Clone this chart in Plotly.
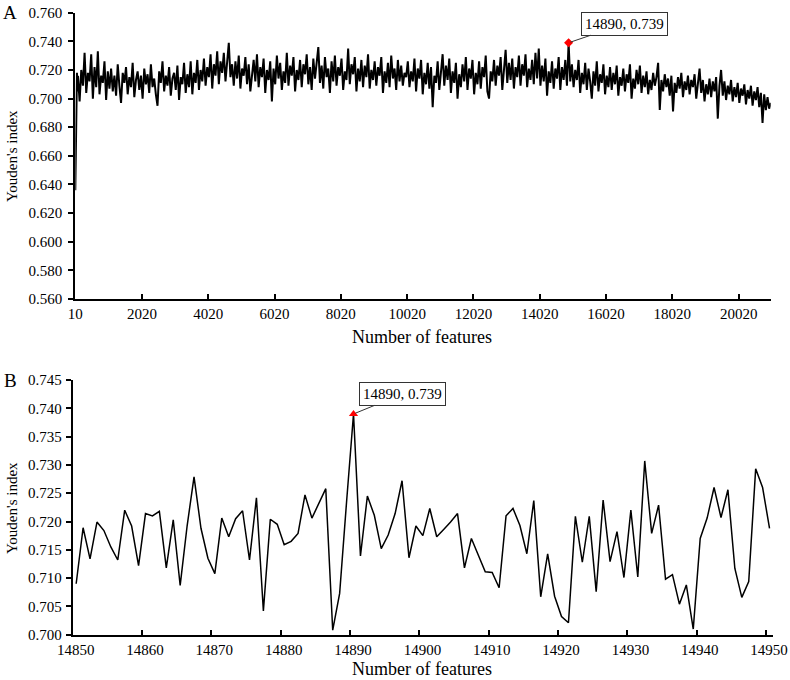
import plotly.graph_objects as go

# ---------------- Panel A data (Youden's index vs number of features) ----------------
STEP_A = 50
xa_rise = [10, 20, 30, 40, 50, 60, 70]
ya_rise = [0.636, 0.662, 0.681, 0.699, 0.712, 0.718, 0.705]

start_s1 = 90
ya_s1 = [0.716, 0.698, 0.720, 0.709, 0.732, 0.704, 0.718, 0.712, 0.731, 0.700,
         0.722, 0.708, 0.733, 0.703, 0.716, 0.711, 0.726, 0.699, 0.719, 0.707]

start_s2 = 1090
ya_s2 = [0.721, 0.705, 0.716, 0.702, 0.724, 0.709, 0.697, 0.718, 0.711, 0.722,
         0.703, 0.715, 0.708, 0.725, 0.701, 0.713, 0.719, 0.706, 0.716, 0.700,
         0.721, 0.710, 0.717, 0.704, 0.724, 0.708, 0.714, 0.703, 0.695, 0.719,
         0.711, 0.726, 0.705, 0.716, 0.709, 0.722, 0.702, 0.714, 0.718, 0.706,
         0.723, 0.699, 0.715, 0.710, 0.725, 0.704, 0.717, 0.708, 0.726, 0.703,
         0.718, 0.711, 0.727, 0.706, 0.720]

start_s3 = 3840
ya_s3 = [0.712, 0.728, 0.709, 0.722, 0.715, 0.731, 0.707, 0.724, 0.716, 0.733,
         0.710, 0.726, 0.718, 0.732, 0.712, 0.727, 0.739, 0.715, 0.724]

start_s4 = 4790
ya_s4 = [0.709, 0.726, 0.714, 0.730, 0.707, 0.721, 0.716, 0.729, 0.710, 0.724,
         0.705, 0.719, 0.727, 0.712, 0.731, 0.708, 0.722, 0.715, 0.728, 0.704,
         0.720, 0.713, 0.726, 0.698, 0.721, 0.710, 0.730, 0.714, 0.725, 0.706,
         0.719, 0.711, 0.732, 0.709, 0.723, 0.716, 0.729, 0.705, 0.720, 0.713,
         0.727, 0.708, 0.724, 0.717, 0.731, 0.710, 0.722, 0.706, 0.728, 0.714,
         0.725, 0.736, 0.711, 0.723, 0.707, 0.729, 0.715, 0.721, 0.704, 0.726,
         0.712, 0.730, 0.709, 0.722, 0.716, 0.728, 0.706, 0.719, 0.713, 0.735,
         0.710, 0.724, 0.717, 0.729, 0.705, 0.721, 0.712, 0.727, 0.708, 0.723,
         0.715, 0.731, 0.707, 0.720, 0.713, 0.726, 0.709, 0.722, 0.716, 0.729,
         0.704, 0.719, 0.711, 0.725, 0.708, 0.730, 0.714, 0.721, 0.706, 0.727,
         0.712, 0.723, 0.709, 0.718, 0.715]

start_s5 = 10040
ya_s5 = [0.726, 0.708, 0.719, 0.712, 0.728, 0.705, 0.721, 0.714, 0.727, 0.703,
         0.718, 0.710, 0.725, 0.707, 0.722, 0.694, 0.716, 0.711, 0.726, 0.706,
         0.720, 0.731, 0.709, 0.723, 0.713, 0.728, 0.704, 0.719, 0.711, 0.725,
         0.700, 0.717, 0.708, 0.724, 0.712, 0.729, 0.706, 0.721, 0.714, 0.727,
         0.703, 0.718, 0.710, 0.726, 0.707, 0.722, 0.715, 0.730, 0.705, 0.700,
         0.719, 0.712, 0.727, 0.709, 0.723, 0.716, 0.729, 0.706, 0.720, 0.734,
         0.711, 0.725, 0.713, 0.728, 0.707, 0.722, 0.715, 0.730, 0.709, 0.724,
         0.716, 0.731, 0.708, 0.721, 0.713, 0.727, 0.710, 0.732, 0.714, 0.735,
         0.709, 0.723, 0.712, 0.728, 0.702, 0.719, 0.711, 0.726, 0.707, 0.721,
         0.714, 0.729, 0.706, 0.722, 0.713, 0.727, 0.709]

start_s6 = 14890
ya_s6 = [0.739, 0.712, 0.724, 0.708, 0.720, 0.713, 0.727, 0.704, 0.718, 0.710,
         0.725, 0.706, 0.721, 0.712, 0.700, 0.719, 0.709, 0.726, 0.705, 0.717,
         0.711, 0.724, 0.703, 0.716, 0.708, 0.722, 0.706, 0.718, 0.710, 0.723,
         0.702, 0.715, 0.709, 0.721, 0.705, 0.717, 0.711, 0.724, 0.700, 0.714,
         0.707, 0.720, 0.710, 0.723, 0.704, 0.716, 0.708, 0.719, 0.703, 0.713]

start_s7 = 17390
ya_s7 = [0.706, 0.718, 0.709, 0.715, 0.725, 0.692, 0.713, 0.705, 0.717, 0.708,
         0.714, 0.702, 0.716, 0.691, 0.711, 0.704, 0.715, 0.707, 0.718, 0.701,
         0.712, 0.706, 0.716, 0.703, 0.713, 0.708, 0.717, 0.700, 0.711, 0.721,
         0.704, 0.713, 0.698, 0.710, 0.703, 0.714, 0.701, 0.712, 0.705, 0.715,
         0.686, 0.709, 0.720]

start_s8 = 19540
ya_s8 = [0.702, 0.712, 0.699, 0.709, 0.703, 0.713, 0.698, 0.708, 0.701, 0.711,
         0.697, 0.707, 0.702, 0.710, 0.696, 0.706, 0.700, 0.709, 0.695, 0.705,
         0.699, 0.708, 0.694, 0.704, 0.683, 0.703, 0.692, 0.701, 0.693, 0.697]

a_tick_vals = [10, 2020, 4020, 6020, 8020, 10020, 12020, 14020, 16020, 18020, 20020]
a_y_ticks = [0.560, 0.580, 0.600, 0.620, 0.640, 0.660, 0.680, 0.700, 0.720, 0.740, 0.760]

best_feature = 14890
best_value = 0.739

# ---------------- Panel B data (zoom 14850 - 14950) ----------------
xb = list(range(14850, 14951))
yb = [0.7090, 0.7189, 0.7134, 0.7199, 0.7184, 0.7155, 0.7132, 0.7220, 0.7192, 0.7122,
      0.7214, 0.7210, 0.7218, 0.7118, 0.7203, 0.7087, 0.7192, 0.7279, 0.7188, 0.7135,
      0.7108, 0.7206, 0.7173, 0.7205, 0.7219, 0.7132, 0.7242, 0.7042, 0.7204, 0.7195,
      0.7159, 0.7165, 0.7179, 0.7247, 0.7206, 0.7231, 0.7258, 0.7008, 0.7073, 0.7235,
      0.7390, 0.7139, 0.7245, 0.7211, 0.7152, 0.7176, 0.7214, 0.7272, 0.7136, 0.7192,
      0.7175, 0.7223, 0.7173, 0.7186, 0.7199, 0.7214, 0.7118, 0.7170, 0.7140, 0.7111,
      0.7110, 0.7083, 0.7210, 0.7223, 0.7193, 0.7143, 0.7237, 0.7067, 0.7143, 0.7068,
      0.7032, 0.7021, 0.7209, 0.7128, 0.7209, 0.7076, 0.7238, 0.7129, 0.7182, 0.7101,
      0.7220, 0.7102, 0.7307, 0.7179, 0.7229, 0.7098, 0.7106, 0.7054, 0.7088, 0.7010,
      0.7170, 0.7206, 0.7260, 0.7207, 0.7256, 0.7117, 0.7066, 0.7094, 0.7293, 0.7260,
      0.7188]
b_tick_labels = [14850, 14860, 14870, 14880, 14890, 14900, 14910, 14920, 14930, 14940, 14950]
b_y_ticks = [0.700, 0.705, 0.710, 0.715, 0.720, 0.725, 0.730, 0.735, 0.740, 0.745]

# ---------------- build panel A series ----------------
segments = [(start_s1, ya_s1), (start_s2, ya_s2), (start_s3, ya_s3), (start_s4, ya_s4),
            (start_s5, ya_s5), (start_s6, ya_s6), (start_s7, ya_s7), (start_s8, ya_s8)]
xa = list(xa_rise)
ya = list(ya_rise)
for st, vals in segments:
    xa += [st + STEP_A * i for i in range(len(vals))]
    ya += vals

W, H = 790, 680
FONT = "Liberation Serif"

fig = go.Figure()
fig.add_trace(go.Scatter(x=xa, y=ya, mode="lines", line=dict(color="black", width=2.0),
                         xaxis="x", yaxis="y", showlegend=False, hoverinfo="skip"))
fig.add_trace(go.Scatter(x=[best_feature], y=[best_value], mode="markers",
                         marker=dict(symbol="diamond", color="red", size=7),
                         xaxis="x", yaxis="y", showlegend=False))
fig.add_trace(go.Scatter(x=xb, y=yb, mode="lines", line=dict(color="black", width=1.5),
                         xaxis="x2", yaxis="y2", showlegend=False))
fig.add_trace(go.Scatter(x=[best_feature], y=[best_value], mode="markers",
                         marker=dict(symbol="triangle-up", color="red", size=8),
                         xaxis="x2", yaxis="y2", showlegend=False))

axis_common = dict(showline=True, linecolor="black", linewidth=2, showgrid=False,
                   zeroline=False, tickfont=dict(family=FONT, size=15, color="black"),
                   tickcolor="black", tickwidth=1.5, ticklen=5, automargin=False,
                   ticklabeloverflow="allow")

fig.update_layout(
    width=W, height=H, margin=dict(l=0, r=0, t=0, b=0),
    paper_bgcolor="white", plot_bgcolor="white",
    xaxis=dict(domain=[75.3 / W, 770.7 / W], range=[10, 20986], tickvals=a_tick_vals,
               ticktext=[str(v) for v in a_tick_vals], ticks="inside", anchor="y",
               **axis_common),
    yaxis=dict(domain=[1 - 299 / H, 1 - 12.7 / H], range=[0.56, 0.76], tickvals=a_y_ticks,
               tickformat=".3f", ticks="outside", anchor="x", ticklabelstandoff=3,
               **axis_common),
    xaxis2=dict(domain=[72.7 / W, 773 / W], range=[14849.5, 14950.5],
                tickvals=[v - 0.5 for v in b_tick_labels],
                ticktext=[str(v) for v in b_tick_labels], ticklabelshift=3,
                ticks="inside", anchor="y2", **axis_common),
    yaxis2=dict(domain=[1 - 634.7 / H, 1 - 380 / H], range=[0.700, 0.745], tickvals=b_y_ticks,
                tickformat=".3f", ticks="outside", anchor="x2", ticklabelstandoff=1,
                **axis_common),
)

def txt(x, y, s, size, angle=0):
    fig.add_annotation(x=x / W, y=1 - y / H, xref="paper", yref="paper", text=s,
                       showarrow=False, textangle=angle, xanchor="center", yanchor="middle",
                       font=dict(family=FONT, size=size, color="black"))

txt(10, 12.5, "A", 19)
txt(10, 380.5, "B", 19)
txt(12, 156, "Youden's index", 15, -90)
txt(12, 508, "Youden's index", 15, -90)
txt(422, 337, "Number of features", 18)
txt(422, 669, "Number of features", 18)

box_style = dict(showarrow=True, arrowhead=0, arrowwidth=1, arrowcolor="#333333",
                 bordercolor="#333333", borderwidth=1, borderpad=3, bgcolor="white",
                 font=dict(family=FONT, size=15, color="black"), standoff=2)
fig.add_annotation(x=best_feature, y=best_value, xref="x", yref="y",
                   text=f"{best_feature}, {best_value:.3f}", ax=56, ay=-19, **box_style)
fig.add_annotation(x=best_feature, y=best_value, xref="x2", yref="y2",
                   text=f"{best_feature}, {best_value:.3f}", ax=49, ay=-20, **box_style)

fig.write_html("out.html", config={"displayModeBar": False},
               post_script="document.body.style.margin='0';document.body.style.overflow='hidden';")
